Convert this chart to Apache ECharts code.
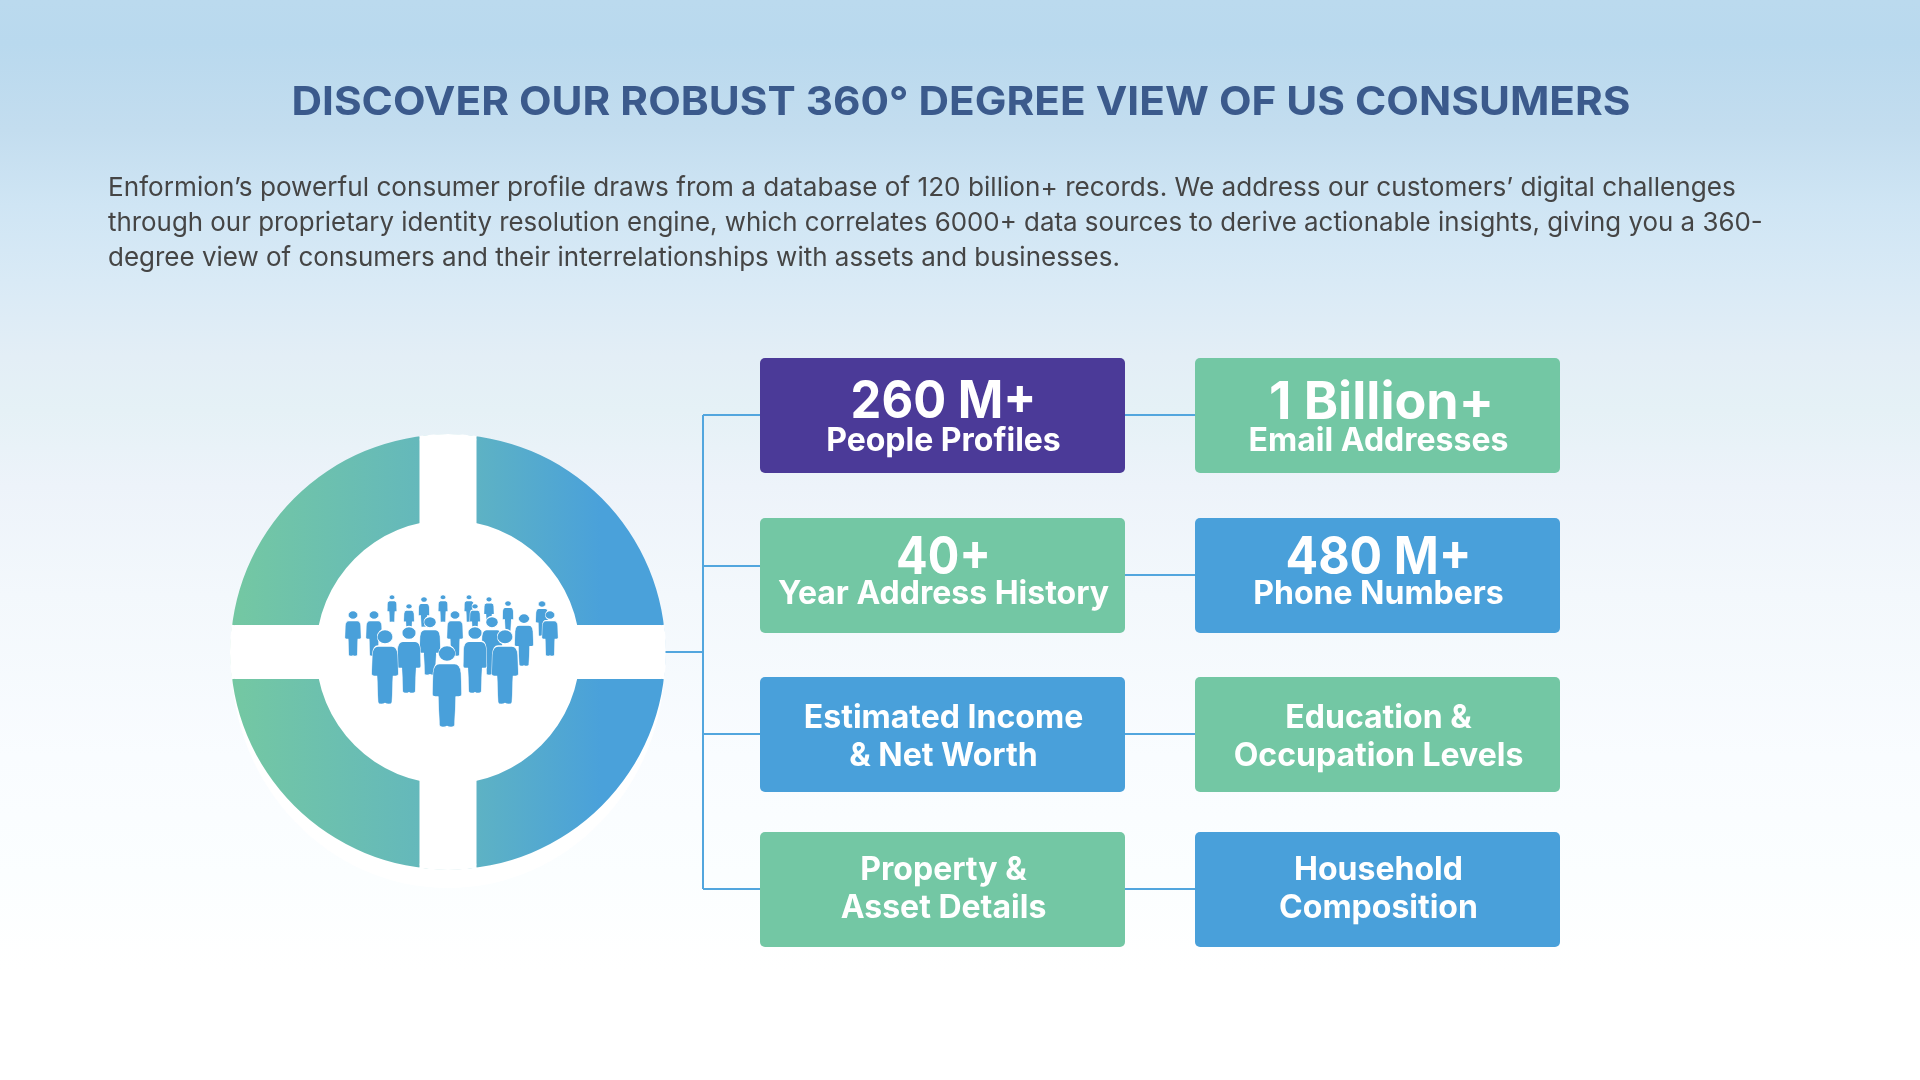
<!DOCTYPE html>
<html>
<head>
    <meta charset="utf-8"/>
    <title>360 degree view of US consumers</title>
    <script src="https://cdn.jsdelivr.net/npm/echarts@6/dist/echarts.min.js"></script>
    <style>
        html, body { margin: 0; padding: 0; background: #fff; }
        #chart { width: 1920px; height: 1080px; }
    </style>
</head>
<body>
<div id="chart"></div>
<script>
    // content
    var titleText = 'DISCOVER OUR ROBUST 360° DEGREE VIEW OF US CONSUMERS';
    var bodyLines = [
        'Enformion’s powerful consumer profile draws from a database of 120 billion+ records. We address our customers’ digital challenges',
        'through our proprietary identity resolution engine, which correlates 6000+ data sources to derive actionable insights, giving you a 360-',
        'degree view of consumers and their interrelationships with assets and businesses.'
    ];
    var quadrantValues = [25, 25, 25, 25];
    var leftHeadlines = ['260 M+', '40+', '', ''];
    var leftLabels = [['People Profiles'], ['Year Address History'], ['Estimated Income', '& Net Worth'], ['Property &', 'Asset Details']];
    var rightHeadlines = ['1 Billion+', '480 M+', '', ''];
    var rightLabels = [['Email Addresses'], ['Phone Numbers'], ['Education &', 'Occupation Levels'], ['Household', 'Composition']];

    // colours
    var purple = '#4b3a98', green = '#73c7a4', blue = '#49a0da';
    var leftFills = [purple, green, blue, green];
    var rightFills = [green, blue, green, blue];

    // layout, in page pixels
    var colLeft = [760, 1195], rowTop = [358, 518, 677, 832];
    var boxW = 365, boxH = 115;
    var headlineY = [[402.5, 403], [558.5, 558.5]], firstLineY = [441, 594, 718, 870], lineGap = 38;
    // headline glyphs in the picture are narrower than Inter's
    var headlineScale = [[0.94, 1.0], [0.9, 0.93]];
    var bodyScale = [1.006, 0.995, 0.999];
    var trunkX = 703, stemY = 652;
    var branchY = [415, 566, 734, 889], linkY = [415, 575, 734, 889];
    var ringX = 448, ringY = 652, ringOuter = 217.5, ringInner = 132;
    var gapV = 28.5, gapH = 27;
    // crowd icon: centre x, top, bottom of each figure, back to front
    var crowd = [
        [392, 595, 622], [424, 597, 627], [443, 595, 622], [469, 595, 622], [489, 597, 625],
        [542, 601, 636], [508, 601, 631], [475, 604, 633], [409, 604, 633], [353, 611, 656],
        [374, 611, 656], [455, 611, 656], [550, 611, 656], [524, 614, 666], [430, 617, 675],
        [492, 617, 675], [409, 627, 693], [475, 627, 693], [385, 630, 704], [505, 630, 704],
        [447, 646, 727]
    ];
    var personPath = 'path://M50 0A29 29 0 1 1 50 58A29 29 0 1 1 50 0ZM24 66H76Q95 66 98 100L100 178Q100 188 90 188H80L76 292Q75 300 64 300Q56 300 50 296Q44 300 36 300Q25 300 24 292L20 188H10Q0 188 0 178L2 100Q5 66 24 66Z';

    var myChart = echarts.init(document.getElementById('chart'));

    var ringFill = new echarts.graphic.LinearGradient(ringX - ringOuter, 0, ringX + ringOuter, 0, [
        {offset: 0, color: '#74c8a2'},
        {offset: 0.5, color: '#62b6bf'},
        {offset: 0.85, color: '#4aa1da'},
        {offset: 1, color: '#4aa1da'}
    ], true);

    // one entry per box
    var boxes = [];
    for (var i = 0; i < rowTop.length; i++) {
        boxes.push({col: 0, row: i, fill: leftFills[i], head: leftHeadlines[i], lines: leftLabels[i]});
        boxes.push({col: 1, row: i, fill: rightFills[i], head: rightHeadlines[i], lines: rightLabels[i]});
    }

    function textAt(api, x, y, text, size, sx) {
        var p = api.coord([x, y]);
        return {
            type: 'text',
            x: p[0], y: p[1], scaleX: sx || 1,
            style: {
                x: 0, y: 0, text: text, fill: '#fff', textAlign: 'center', textVerticalAlign: 'middle',
                fontFamily: 'Inter', fontWeight: 700, fontSize: size
            }
        };
    }

    function renderBox(params, api) {
        var b = boxes[params.dataIndex];
        var tl = api.coord([colLeft[b.col], rowTop[b.row]]);
        var cx = colLeft[b.col] + boxW / 2 + 1;
        var kids = [{
            type: 'rect',
            shape: {x: tl[0], y: tl[1], width: boxW, height: boxH, r: 5},
            style: {fill: b.fill}
        }];
        if (b.head) {
            // "1 Billion+" sits a little right of the box centre
            var headX = b.head.indexOf('Billion') >= 0 ? cx + 3 : cx;
            kids.push(textAt(api, headX, headlineY[b.row][b.col], b.head, 52, headlineScale[b.row][b.col]));
        }
        for (var j = 0; j < b.lines.length; j++) {
            kids.push(textAt(api, cx, firstLineY[b.row] + j * lineGap, b.lines[j], 32));
        }
        return {type: 'group', children: kids};
    }

    function lineEl(api, x1, y1, x2, y2) {
        var a = api.coord([x1, y1]), b = api.coord([x2, y2]);
        return {
            type: 'line',
            shape: {x1: a[0], y1: a[1], x2: b[0], y2: b[1]},
            style: {stroke: '#52a6de', lineWidth: 2}
        };
    }

    function renderLinks(params, api) {
        var kids = [lineEl(api, trunkX, branchY[0], trunkX, branchY[3]), lineEl(api, ringX + ringOuter, stemY, trunkX, stemY)];
        for (var i = 0; i < rowTop.length; i++) {
            kids.push(lineEl(api, trunkX, branchY[i], colLeft[0], branchY[i]));
            kids.push(lineEl(api, colLeft[0] + boxW, linkY[i], colLeft[1], linkY[i]));
        }
        return {type: 'group', children: kids};
    }

    function renderBackdrop(params, api) {
        var c = api.coord([ringX, 662]);
        return {type: 'ellipse', shape: {cx: c[0], cy: c[1], rx: ringOuter - 1, ry: 226}, style: {fill: '#fff'}};
    }

    // white cross over the ring, with caps following the outer edge
    function renderCross(params, api) {
        var c = api.coord([ringX, ringY]);
        var kids = [
            {type: 'rect', shape: {x: c[0] - gapV, y: c[1] - ringOuter + 4, width: gapV * 2, height: ringOuter * 2 - 8}, style: {fill: '#fff'}},
            {type: 'rect', shape: {x: c[0] - ringOuter + 4, y: c[1] - gapH, width: ringOuter * 2 - 8, height: gapH * 2}, style: {fill: '#fff'}}
        ];
        var half = [0.125, 0.132, 0.125, 0.132];
        for (var k = 0; k < 4; k++) {
            var a = k * Math.PI / 2;
            kids.push({
                type: 'sector',
                shape: {cx: c[0], cy: c[1], r: ringOuter + 0.5, r0: ringOuter - 12, startAngle: a - half[k], endAngle: a + half[k]},
                style: {fill: '#fff'}
            });
        }
        return {type: 'group', children: kids};
    }

    var textEls = [{
        type: 'text', x: 961, y: 102.5, scaleX: 1.058, z: 10,
        style: {text: titleText, fill: '#3b5a8c', textAlign: 'center', textVerticalAlign: 'middle', fontFamily: 'Inter', fontWeight: 700, fontSize: 40}
    }];
    for (var n = 0; n < bodyLines.length; n++) {
        textEls.push({
            type: 'text', x: 108, y: 188.5 + n * 35, scaleX: bodyScale[n], z: 10,
            style: {text: bodyLines[n], fill: '#454545', textAlign: 'left', textVerticalAlign: 'middle', fontFamily: 'Inter', fontSize: 26}
        });
    }

    var option = {
        animation: false,
        backgroundColor: new echarts.graphic.LinearGradient(0, 0, 0, 1, [
            {offset: 0, color: '#bbdaee'},
            {offset: 0.04, color: '#b9d9ee'},
            {offset: 0.12, color: '#c3ddef'},
            {offset: 0.19, color: '#cfe5f4'},
            {offset: 0.26, color: '#d9eaf6'},
            {offset: 0.33, color: '#e3eef6'},
            {offset: 0.38, color: '#e5f1f6'},
            {offset: 0.45, color: '#edf3fa'},
            {offset: 0.55, color: '#f3f8fc'},
            {offset: 0.7, color: '#f9fcff'},
            {offset: 0.81, color: '#fbfeff'},
            {offset: 0.9, color: '#ffffff'},
            {offset: 1, color: '#ffffff'}
        ]),
        grid: {left: 0, top: 0, width: 1920, height: 1080},
        xAxis: {type: 'value', min: 0, max: 1920, show: false},
        yAxis: {type: 'value', min: 0, max: 1080, inverse: true, show: false},
        graphic: textEls,
        series: [
            {type: 'custom', name: 'backdrop', z: 1, clip: false, data: [0], renderItem: renderBackdrop},
            {
                type: 'pie', name: 'ring', z: 2, silent: true,
                center: [ringX, ringY], radius: [ringInner, ringOuter], startAngle: 90,
                label: {show: false}, labelLine: {show: false},
                itemStyle: {color: ringFill},
                data: quadrantValues
            },
            {type: 'custom', name: 'cross', z: 3, clip: false, data: [0], renderItem: renderCross},
            {
                type: 'scatter', name: 'crowd', z: 4, silent: true,
                symbol: personPath,
                symbolKeepAspect: false,
                symbolSize: function (val) {
                    return [val[2] * 0.36, val[2] + 1];
                },
                itemStyle: {color: blue, borderColor: '#fff', borderWidth: 0.8, opacity: 1},
                data: crowd.map(function (p) {
                    return [p[0], (p[1] + p[2]) / 2, p[2] - p[1]];
                })
            },
            {type: 'custom', name: 'links', z: 5, clip: false, data: [0], renderItem: renderLinks},
            {type: 'custom', name: 'boxes', z: 6, clip: false, data: boxes.map(function (b, i) { return i; }), renderItem: renderBox}
        ]
    };
    myChart.setOption(option);
</script>
</body>
</html>
